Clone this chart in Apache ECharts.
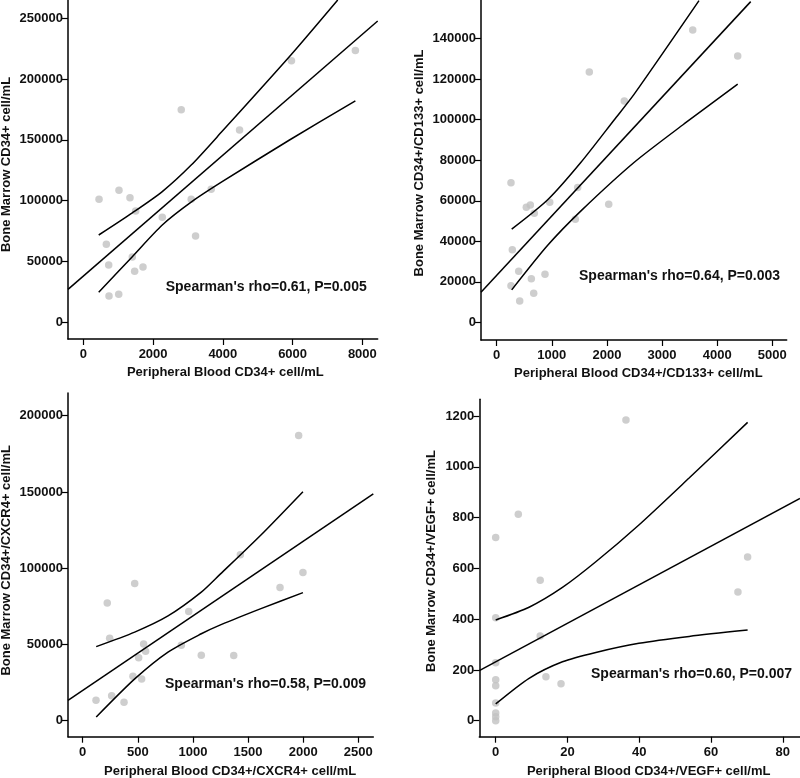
<!DOCTYPE html>
<html>
<head>
<meta charset="utf-8">
<script src="https://cdn.jsdelivr.net/npm/echarts@6/dist/echarts.min.js"></script>
<style>
html,body{margin:0;padding:0;background:#fff;}
#chart{width:800px;height:778px;}
</style>
</head>
<body>
<div id="chart"></div>
<script>
// ---- Panel 1: CD34+ ----
const pbCD34 = [450,1022,1337,1500,2263,2807,3093,3666,3218,659,727,1404,1471,1710,736,1014,4479,5967,7800];
const bmCD34 = [101200,108600,102500,91500,86300,174800,101200,109400,71000,64100,47100,53700,41900,45500,21600,23000,158100,215100,223400];
const fit1 = [[-440,27100],[8440,247700]];
const upper1 = [[441,71800],[1404,90000],[2263,107500],[3100,129500],[3980,157000],[5956,220000],[7294,265000]];
const lower1 = [[441,24700],[1404,54000],[2263,80000],[3100,99000],[3980,115600],[5911,149900],[7800,182000]];
const xTicks1 = [0,2000,4000,6000,8000];
const yTicks1 = [0,50000,100000,150000,200000,250000];

// ---- Panel 2: CD34+/CD133+ ----
const pb133 = [259,1680,2315,1469,962,537,610,682,2032,1426,283,399,628,876,259,671,417,3556,4372];
const bm133 = [68900,123600,109300,66600,59200,56800,57900,53800,58300,50900,35800,25200,21500,23700,18100,14300,10500,144300,131500];
const fit2 = [[-285,14800],[4608,158300]];
const upper2 = [[272,46000],[925,60500],[1529,79000],[2134,100000],[2491,112500],[3670,158800]];
const lower2 = [[272,16000],[925,38000],[1529,55000],[2496,79000],[3398,97900],[4372,117600]];
const xTicks2 = [0,1000,2000,3000,4000,5000];
const yTicks2 = [0,20000,40000,60000,80000,100000,120000,140000];

// ---- Panel 3: CD34+/CXCR4+ ----
const pbCX = [472,223,245,553,571,508,962,895,1076,456,535,121,263,375,1959,1430,1790,1998,1370];
const bmCX = [89900,77100,54100,50300,45500,41200,71600,49500,42900,29100,27400,13400,16400,12100,187100,108800,87300,97200,42700];
const fit3 = [[-133,13400],[2636,148800]];
const upper3 = [[123,48600],[472,58100],[774,68700],[1076,84300],[1248,96100],[1617,121800],[1998,150200]];
const lower3 = [[123,2400],[472,27400],[774,45000],[1076,57000],[1255,63000],[1617,73500],[1998,84000]];
const xTicks3 = [0,500,1000,1500,2000,2500];
const yTicks3 = [0,50000,100000,150000,200000];

// ---- Panel 4: CD34+/VEGF+ ----
const pbVEGF = [36.3,6.3,0,12.4,0,12.4,0,0,0,14.0,18.2,0,0,0,0,70.2,67.5];
const bmVEGF = [1184,813,722,553,406,334,228,161,138,173,146,70,30,16,0,645,507];
const fit4 = [[-4.57,197],[84.8,876]];
const upper4 = [[0,397],[9.3,447],[18.6,525],[27.9,626],[39.9,771],[53.9,956],[70.2,1175]];
const lower4 = [[0,66],[9.3,167],[18.6,232],[27.9,269],[39.9,305],[53.9,332],[70.2,357]];
const xTicks4 = [0,20,40,60,80];
const yTicks4 = [0,200,400,600,800,1000,1200];

const xNames = ['Peripheral Blood CD34+ cell/mL','Peripheral Blood CD34+/CD133+ cell/mL','Peripheral Blood CD34+/CXCR4+ cell/mL','Peripheral Blood CD34+/VEGF+ cell/mL'];
const yNames = ['Bone Marrow CD34+ cell/mL','Bone Marrow CD34+/CD133+ cell/mL','Bone Marrow CD34+/CXCR4+ cell/mL','Bone Marrow CD34+/VEGF+ cell/mL'];
const notes = ["Spearman's rho=0.61, P=0.005","Spearman's rho=0.64, P=0.003","Spearman's rho=0.58, P=0.009","Spearman's rho=0.60, P=0.007"];

const FONT = '"Liberation Sans", Arial, Helvetica, sans-serif';
const panels = [
  {x:pbCD34, y:bmCD34, fit:fit1, up:upper1, lo:lower1, xt:xTicks1, yt:yTicks1, xr:[-440,8440], yr:[-13700,265000],
   grid:{left:68, top:0, right:422.3, bottom:439}, yGap:55, xGap:27, yPad:[0,0,0,10], xPad:[0,0,0,5], note:[165.7,286.7]},
  {x:pb133, y:bm133, fit:fit2, up:upper2, lo:lower2, xt:xTicks2, yt:yTicks2, xr:[-285,5261], yr:[-8740,159100],
   grid:{left:481, top:0, right:13.3, bottom:438}, yGap:55, xGap:27, yPad:[0,0,0,14], xPad:[0,0,0,9], note:[579,276]},
  {x:pbCX, y:bmCX, fit:fit3, up:upper3, lo:lower3, xt:xTicks3, yt:yTicks3, xr:[-133,2636], yr:[-10500,214900],
   grid:{left:68, top:393, right:426.7, bottom:41.3}, yGap:55, xGap:28, yPad:[0,0,0,9], xPad:[0,0,0,19], note:[165,684]},
  {x:pbVEGF, y:bmVEGF, fit:fit4, up:upper4, lo:lower4, xt:xTicks4, yt:yTicks4, xr:[-4.57,84.8], yr:[-63,1266],
   grid:{left:479.3, top:399.3, right:0, bottom:41.3}, yGap:41, xGap:28, yPad:[0,0,0,14], xPad:[0,0,0,18], note:[591,674]}
];

const grids = [], xAxes = [], yAxes = [], series = [], graphics = [];
const axisCommon = {
  type:'value',
  axisLine:{onZero:false, lineStyle:{color:'#000', width:1.5}},
  axisTick:{show:true, inside:false, length:6, lineStyle:{color:'#000', width:1.2}},
  splitLine:{show:false},
  nameLocation:'middle',
  nameTextStyle:{fontFamily:FONT, fontWeight:'bold', fontSize:13, color:'#111'}
};
panels.forEach((p, i) => {
  grids.push(Object.assign({containLabel:false, outerBoundsMode:'none'}, p.grid));
  xAxes.push(Object.assign({}, axisCommon, {
    gridIndex:i, min:p.xr[0], max:p.xr[1], name:xNames[i], nameGap:p.xGap,
    nameTextStyle:Object.assign({}, axisCommon.nameTextStyle, {padding:p.xPad}),
    axisTick:Object.assign({}, axisCommon.axisTick, {customValues:p.xt}),
    axisLabel:{customValues:p.xt, margin:9, fontFamily:FONT, fontWeight:'bold', fontSize:13, color:'#111', formatter:v=>String(v)}
  }));
  yAxes.push(Object.assign({}, axisCommon, {
    gridIndex:i, min:p.yr[0], max:p.yr[1], name:yNames[i], nameGap:p.yGap,
    nameTextStyle:Object.assign({}, axisCommon.nameTextStyle, {padding:p.yPad}),
    axisTick:Object.assign({}, axisCommon.axisTick, {customValues:p.yt}),
    axisLabel:{customValues:p.yt, margin:5, fontFamily:FONT, fontWeight:'bold', fontSize:13, color:'#111', formatter:v=>String(v)}
  }));
  const pts = p.x.map((v, k) => [v, p.y[k]]);
  series.push({type:'scatter', xAxisIndex:i, yAxisIndex:i, data:pts, symbolSize:7.5,
    itemStyle:{color:'#c2c2c2'}, z:2, silent:true});
  series.push({type:'line', xAxisIndex:i, yAxisIndex:i, data:p.fit, showSymbol:false, symbol:'none',
    lineStyle:{color:'#000', width:1.5}, z:3, clip:true, silent:true});
  series.push({type:'line', xAxisIndex:i, yAxisIndex:i, data:p.up, showSymbol:false, symbol:'none', smooth:0.25,
    lineStyle:{color:'#000', width:1.5}, z:3, clip:true, silent:true});
  series.push({type:'line', xAxisIndex:i, yAxisIndex:i, data:p.lo, showSymbol:false, symbol:'none', smooth:0.25,
    lineStyle:{color:'#000', width:1.5}, z:3, clip:true, silent:true});
  graphics.push({type:'text', x:p.note[0], y:p.note[1], z:10,
    style:{text:notes[i], font:'bold 14px ' + FONT, fill:'#111', align:'left', verticalAlign:'middle'}});
});

const chart = echarts.init(document.getElementById('chart'), null, {renderer:'canvas'});
chart.setOption({
  animation:false,
  backgroundColor:'#fff',
  grid:grids, xAxis:xAxes, yAxis:yAxes, series:series, graphic:graphics
});
</script>
</body>
</html>
